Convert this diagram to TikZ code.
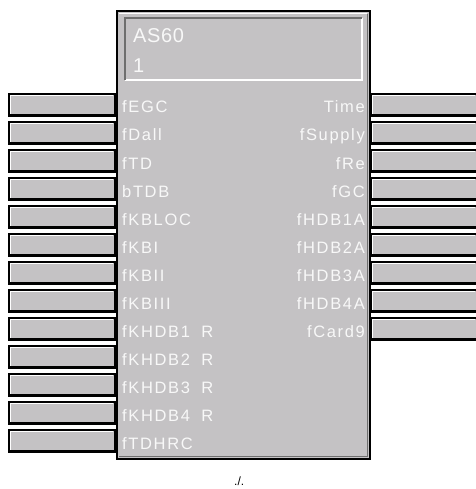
\documentclass[tikz,border=0pt]{standalone}
\usepackage{fontspec}
\newfontfamily\pinfont{Liberation Sans}[LetterSpace=10]
\newfontfamily\headfont{Liberation Sans}[LetterSpace=3]
\definecolor{blockgray}{RGB}{196,194,196}
\definecolor{darkedge}{RGB}{110,110,110}
\definecolor{labelwhite}{RGB}{248,248,248}
\begin{document}
\begin{tikzpicture}[x=1pt,y=-1pt,
  pinbox/.style={draw=black, line width=1.6pt, fill=blockgray,
    minimum width=106pt, minimum height=22pt, inner sep=0pt, outer sep=0pt,
    path picture={\draw[white,line width=1.2pt]
      ([xshift=1.6pt,yshift=1.6pt]path picture bounding box.south west) |-
      ([xshift=-1.6pt,yshift=-1.6pt]path picture bounding box.north east);
      \draw[black,line width=1.6pt]
      ([yshift=1.2pt]path picture bounding box.south west) -- ([yshift=1.2pt]path picture bounding box.south east);}},
  pinlabel/.style={inner sep=0pt, text=labelwhite, font=\pinfont\fontsize{16.5}{18}\selectfont},
  headlabel/.style={inner sep=0pt, text=labelwhite, font=\headfont\fontsize{20}{22}\selectfont, anchor=base west}
]
\useasboundingbox (0,0) rectangle (475,489);
% main block
\node[fill=blockgray, draw=black, line width=2.2pt, minimum width=253pt, minimum height=448pt,
      inner sep=0pt, outer sep=0pt, anchor=north west] (block) at (117,11) {};
\draw[white, line width=1.2pt] (119,13.8) -- (367,13.8);
\draw[darkedge, line width=1.2pt] (367.2,14) -- (367.2,456.2) -- (119,456.2);
% header box
\coordinate (hnw) at (125,18);
\coordinate (hse) at (362,80);
\draw[white, line width=2pt] (hse -| hnw) -- (hse) -- (hnw -| hse);
\draw[darkedge, line width=2pt] (hse -| hnw) -- (hnw) -- (hnw -| hse);
\node[headlabel] (title) at (133,43) {AS60};
\node[headlabel] (num) at (133,73) {1};
% left pins
\foreach \i/\t in {1/fEGC,2/fDall,3/fTD,4/bTDB,5/fKBLOC,6/fKBI,7/fKBII,8/fKBIII,
  9/{fKHDB1\hspace{5pt} R},10/{fKHDB2\hspace{5pt} R},11/{fKHDB3\hspace{5pt} R},12/{fKHDB4\hspace{5pt} R},13/fTDHRC}{
  \node[pinbox, anchor=north west] (lp\i) at (9,{94+28*(\i-1)}) {};
  \node[pinlabel, anchor=base west] (ll\i) at (122,{113+28*(\i-1)}) {\t};
}
% right pins
\foreach \i/\t in {1/Time,2/fSupply,3/fRe,4/fGC,5/fHDB1A,6/fHDB2A,7/fHDB3A,8/fHDB4A,9/fCard9}{
  \node[pinbox, anchor=north west] (rp\i) at (371,{94+28*(\i-1)}) {};
  \node[pinlabel, anchor=base east] (rl\i) at (365,{113+28*(\i-1)}) {\t};
}
% bottom mark
\node[inner sep=0pt, anchor=base west, font=\fontspec{Liberation Sans}\fontsize{12}{13}\selectfont] (mark) at (234,485) {./.};
\end{tikzpicture}
\end{document}
